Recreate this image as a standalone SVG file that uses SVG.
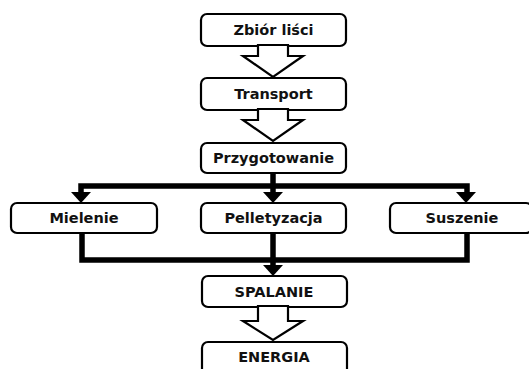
<svg xmlns="http://www.w3.org/2000/svg" width="529" height="369" viewBox="0 0 529 369">
<style>
.box{fill:#fff;stroke:#000;stroke-width:2.2}
.t{font-family:"DejaVu Sans","Open Sans",sans-serif;font-weight:bold;font-size:14.5px;fill:#111;text-anchor:middle}
.hollow{fill:#fff;stroke:#000;stroke-width:2.2;stroke-linejoin:miter}
.thick{fill:none;stroke:#000;stroke-width:5.5;stroke-linejoin:miter}
.head{fill:#000}
</style>
<rect width="529" height="369" fill="#fff"/>
<g id="connectors">
<path class="thick" d="M273,173 V194"/>
<path class="thick" d="M81,194 V186 H467 V194"/>
<polygon class="head" points="71,192 91,192 81,203"/>
<polygon class="head" points="263,192 283,192 273,203"/>
<polygon class="head" points="456,192 476,192 466,203"/>
<path class="thick" d="M82,233 V260 H467 V233"/>
<path class="thick" d="M273,233 V267"/>
<polygon class="head" points="263,265 283,265 273,276"/>
</g>
<g id="n1"><rect class="box" x="201" y="14" width="145" height="32" rx="6"/><text class="t" x="273.5" y="35">Zbiór liści</text></g>
<g id="n2"><rect class="box" x="201" y="78" width="145" height="32" rx="6"/><text class="t" x="273.5" y="99">Transport</text></g>
<g id="n3"><rect class="box" x="201" y="143" width="145" height="30" rx="6"/><text class="t" x="273.5" y="163">Przygotowanie</text></g>
<g id="n4"><rect class="box" x="11" y="203" width="146" height="30" rx="6"/><text class="t" x="84" y="223">Mielenie</text></g>
<g id="n5"><rect class="box" x="201" y="203" width="145" height="30" rx="6"/><text class="t" x="273.5" y="223">Pelletyzacja</text></g>
<g id="n6"><rect class="box" x="390" y="203" width="142" height="30" rx="6"/><text class="t" x="462" y="223">Suszenie</text></g>
<g id="n7"><rect class="box" x="202" y="276" width="145" height="31" rx="6"/><text class="t" x="274" y="296.5">SPALANIE</text></g>
<g id="n8"><rect class="box" x="202" y="342" width="145" height="34" rx="6"/><text class="t" x="274" y="361.5">ENERGIA</text></g>
<g id="hollow-arrows">
<polygon class="hollow" points="258,45 288,45 288,56 303,56 273,77 243,56 258,56"/>
<polygon class="hollow" points="258,109 288,109 288,120 303,120 273,141 243,120 258,120"/>
<polygon class="hollow" points="258,306 288,306 288,321 303,321 273,340 243,321 258,321"/>
</g>
</svg>
